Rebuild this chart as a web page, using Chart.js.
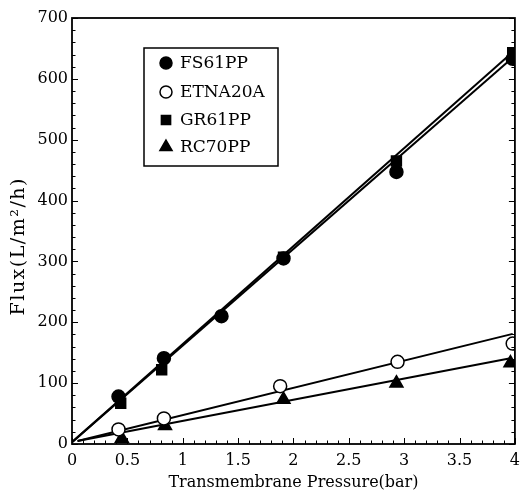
<!DOCTYPE html>
<html>
<head>
<meta charset="utf-8">
<script src="https://cdn.jsdelivr.net/npm/chart.js@4.4.1/dist/chart.umd.min.js"></script>
<style>
  html, body { margin: 0; padding: 0; background: #ffffff; }
  #wrap { width: 527px; height: 494px; position: relative; }
</style>
</head>
<body>
<div id="wrap"><canvas id="c" width="527" height="494"></canvas></div>
<script>
// ---- Data ----
const seriesNames = ['FS61PP', 'ETNA20A', 'GR61PP', 'RC70PP'];

const pressureFS61PP = [0.42, 0.83, 1.35, 1.91, 2.93, 3.98];
const fluxFS61PP     = [78, 141, 210, 305, 447, 633];

const pressureETNA20A = [0.42, 0.83, 1.88, 2.94, 3.98];
const fluxETNA20A     = [24, 42, 95, 135, 165];

const pressureGR61PP = [0.44, 0.81, 1.91, 2.93, 3.98];
const fluxGR61PP     = [67, 122, 307, 465, 643];

const pressureRC70PP = [0.45, 0.84, 1.91, 2.93, 3.96];
const fluxRC70PP     = [9, 30, 73, 100, 133];

// fitted straight lines (start / end points)
const fitFS61PP  = [[0, 3], [3.95, 630]];
const fitGR61PP  = [[0, 3], [3.95, 639]];
const fitETNA20A = [[0.05, 5], [3.98, 181]];
const fitRC70PP  = [[0.05, 5], [3.96, 141]];

const xTicks = [0, 0.5, 1, 1.5, 2, 2.5, 3, 3.5, 4];
const yTicks = [0, 100, 200, 300, 400, 500, 600, 700];
const xTitle = 'Transmembrane Pressure(bar)';
const yTitle = 'Flux(L/m²/h)';

// ---- helpers ----
const toPts = (xs, ys) => xs.map((x, i) => ({ x: x, y: ys[i] }));
const toLine = (pairs) => pairs.map(p => ({ x: p[0], y: p[1] }));

const SERIF = "'DejaVu Serif', 'Liberation Serif', serif";

const markerStyles = {
  FS61PP:  { pointStyle: 'circle',   radius: 6.5, bg: '#000', border: '#000' },
  ETNA20A: { pointStyle: 'circle',   radius: 6.5, bg: '#fff', border: '#000' },
  GR61PP:  { pointStyle: 'rect',     radius: 7,   bg: '#000', border: '#000' },
  RC70PP:  { pointStyle: 'triangle', radius: 7.5, bg: '#000', border: '#000' }
};

function scatterDs(name, xs, ys) {
  const m = markerStyles[name];
  return {
    label: name, type: 'scatter', data: toPts(xs, ys), showLine: false,
    pointStyle: m.pointStyle, pointRadius: m.radius, pointBackgroundColor: m.bg,
    pointBorderColor: m.border, pointBorderWidth: 1.5, order: 0
  };
}
function lineDs(name, pairs) {
  return {
    label: name + ' fit', type: 'line', data: toLine(pairs), showLine: true,
    borderColor: '#000', borderWidth: 2, pointRadius: 0, fill: false, order: 1
  };
}

// inward ticks, frame, y title and legend drawn through the chart's scales
const framePlugin = {
  id: 'frame',
  afterDatasetsDraw(chart) {
    const { ctx, chartArea: a, scales } = chart;
    const xs = scales.x, ys = scales.y;
    ctx.save();
    ctx.strokeStyle = '#000';
    ctx.lineWidth = 1.8;
    ctx.strokeRect(a.left, a.top, a.right - a.left, a.bottom - a.top);
    ctx.lineWidth = 1;
    ctx.beginPath();
    for (let i = 0; i <= 40; i++) {
      const v = i / 10;
      const px = Math.round(xs.getPixelForValue(v)) + 0.5;
      const len = (i % 5 === 0) ? 6 : 3.5;
      ctx.moveTo(px, a.bottom); ctx.lineTo(px, a.bottom - len);
    }
    for (let i = 0; i <= 35; i++) {
      const v = i * 20;
      const py = Math.round(ys.getPixelForValue(v)) + 0.5;
      const len = (i % 5 === 0) ? 6 : 3.5;
      ctx.moveTo(a.left, py); ctx.lineTo(a.left + len, py);
      ctx.moveTo(a.right, py); ctx.lineTo(a.right - len, py);
    }
    ctx.stroke();

    // y axis title
    ctx.save();
    ctx.translate(19, ys.getPixelForValue(325));
    ctx.rotate(-Math.PI / 2);
    ctx.font = "19px " + SERIF;
    if ('letterSpacing' in ctx) ctx.letterSpacing = '1.5px';
    ctx.textAlign = 'center';
    ctx.textBaseline = 'middle';
    ctx.fillStyle = '#000';
    ctx.fillText(yTitle, 0, 0);
    ctx.restore();

    // legend box
    const bx = 144, by = 48, bw = 134, bh = 118;
    ctx.lineWidth = 1.5;
    ctx.strokeRect(bx, by, bw, bh);
    const rowY = [63, 92, 120, 147];
    ctx.font = "17px " + SERIF;
    ctx.textBaseline = 'middle';
    ctx.textAlign = 'left';
    seriesNames.forEach((name, i) => {
      const m = markerStyles[name];
      ctx.fillStyle = m.bg; ctx.strokeStyle = m.border; ctx.lineWidth = 1.5;
      Chart.helpers.drawPoint(ctx, { pointStyle: m.pointStyle, radius: m.radius - 0.5, borderWidth: 1.5 }, 166, rowY[i]);
      ctx.fillStyle = '#000';
      ctx.fillText(name, 180, rowY[i] + 1);
    });
    ctx.restore();
  }
};

new Chart(document.getElementById('c'), {
  type: 'scatter',
  data: {
    datasets: [
      lineDs('FS61PP', fitFS61PP),
      lineDs('GR61PP', fitGR61PP),
      lineDs('ETNA20A', fitETNA20A),
      lineDs('RC70PP', fitRC70PP),
      scatterDs('FS61PP', pressureFS61PP, fluxFS61PP),
      scatterDs('ETNA20A', pressureETNA20A, fluxETNA20A),
      scatterDs('GR61PP', pressureGR61PP, fluxGR61PP),
      scatterDs('RC70PP', pressureRC70PP, fluxRC70PP)
    ]
  },
  options: {
    responsive: false,
    animation: false,
    layout: { autoPadding: false, padding: { left: 0, right: 4, top: 18, bottom: 0 } },
    plugins: { legend: { display: false }, tooltip: { enabled: false } },
    scales: {
      x: {
        type: 'linear', min: 0, max: 4,
        afterBuildTicks: (s) => { s.ticks = xTicks.map(v => ({ value: v })); },
        afterFit: (s) => { s.height = 50; },
        grid: { display: false, drawTicks: false },
        border: { display: false },
        ticks: { color: '#000', font: { family: SERIF, size: 16 }, padding: 7,
                 callback: (v) => String(v) },
        title: { display: true, text: xTitle, color: '#000',
                 font: { family: SERIF, size: 16 }, padding: { top: 2, bottom: 2 } }
      },
      y: {
        type: 'linear', min: 0, max: 700,
        afterBuildTicks: (s) => { s.ticks = yTicks.map(v => ({ value: v })); },
        afterFit: (s) => { s.width = 72; },
        grid: { display: false, drawTicks: false },
        border: { display: false },
        ticks: { color: '#000', font: { family: SERIF, size: 16 }, padding: 4 },
        title: { display: false }
      }
    }
  },
  plugins: [framePlugin]
});
</script>
</body>
</html>
